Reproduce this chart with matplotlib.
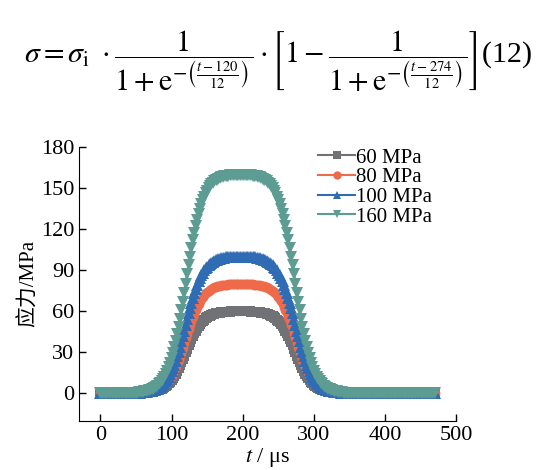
import numpy as np
import matplotlib
matplotlib.use('Agg')
import matplotlib.pyplot as plt

plt.rcParams['font.family'] = ['Liberation Serif', 'Noto Sans CJK SC']
plt.rcParams['mathtext.fontset'] = 'stix'

# temps (us), pas de 2 us
t = np.arange(0, 472, 2)

# forme normalisee du pulse (0 -> 470 us)
forme = [
    0.000, 0.000, 0.000, 0.000, 0.000, 0.000, 0.000, 0.000, 0.000, 0.000, 0.000, 0.000,   # 0-22
    0.000, 0.000, 0.000, 0.001, 0.001, 0.001, 0.001, 0.001, 0.001, 0.002, 0.002, 0.002,   # 24-46
    0.002, 0.003, 0.003, 0.004, 0.005, 0.006, 0.007, 0.008, 0.009, 0.011, 0.013, 0.015,   # 48-70
    0.018, 0.021, 0.025, 0.029, 0.034, 0.040, 0.047, 0.056, 0.065, 0.076, 0.088, 0.103,   # 72-94
    0.119, 0.138, 0.159, 0.182, 0.209, 0.237, 0.269, 0.303, 0.339, 0.378, 0.417, 0.458,   # 96-118
    0.500, 0.542, 0.583, 0.623, 0.661, 0.697, 0.731, 0.763, 0.791, 0.818, 0.841, 0.862,   # 120-142
    0.881, 0.897, 0.912, 0.924, 0.935, 0.945, 0.953, 0.960, 0.966, 0.971, 0.975, 0.979,   # 144-166
    0.982, 0.985, 0.987, 0.989, 0.991, 0.992, 0.993, 0.994, 0.995, 0.995, 0.996, 0.996,   # 168-190
    0.996, 0.997, 0.997, 0.997, 0.997, 0.996, 0.996, 0.996, 0.995, 0.995, 0.994, 0.993,   # 192-214
    0.992, 0.991, 0.989, 0.987, 0.985, 0.982, 0.979, 0.975, 0.971, 0.966, 0.960, 0.953,   # 216-238
    0.945, 0.935, 0.924, 0.912, 0.897, 0.881, 0.862, 0.841, 0.818, 0.791, 0.763, 0.731,   # 240-262
    0.697, 0.661, 0.623, 0.583, 0.542, 0.500, 0.458, 0.417, 0.378, 0.339, 0.303, 0.269,   # 264-286
    0.237, 0.209, 0.182, 0.159, 0.138, 0.119, 0.103, 0.088, 0.076, 0.065, 0.056, 0.047,   # 288-310
    0.040, 0.034, 0.029, 0.025, 0.021, 0.018, 0.015, 0.013, 0.011, 0.009, 0.008, 0.007,   # 312-334
    0.006, 0.005, 0.004, 0.003, 0.003, 0.002, 0.002, 0.002, 0.001, 0.001, 0.001, 0.001,   # 336-358
    0.001, 0.001, 0.001, 0.000, 0.000, 0.000, 0.000, 0.000, 0.000, 0.000, 0.000, 0.000,   # 360-382
] + [0.000] * 44   # 384-470
forme = np.array(forme)

amplitudes = [60, 80, 100, 160]
labels = ['60 MPa', '80 MPa', '100 MPa', '160 MPa']
couleurs = ['#707276', '#ee6a4b', '#2f6cb3', '#5c9c92']
marqueurs = ['s', 'o', '^', 'v']
tailles = [6.5, 7, 8, 8]

fig = plt.figure(figsize=(5.45, 4.70), dpi=100)
ax = fig.add_axes([0.145, 0.105, 0.692, 0.583])

for A, lab, c, m, ms in zip(amplitudes, labels, couleurs, marqueurs, tailles):
    ax.plot(t, A * forme, color=c, marker=m, markersize=ms, markeredgewidth=0,
            linewidth=2, label=lab)

ax.set_xlim(-30, 500)
ax.set_ylim(-20, 180)
ax.set_xticks([0, 100, 200, 300, 400, 500])
ax.set_yticks([0, 30, 60, 90, 120, 150, 180])
ax.spines['top'].set_visible(False)
ax.spines['right'].set_visible(False)
ax.tick_params(direction='in', labelsize=16, length=5, width=1)
ax.set_xlabel(r'$t$ / μs', fontsize=16, labelpad=1)
ax.set_ylabel('应力/MPa', fontsize=15, labelpad=1)

leg = ax.legend(loc='upper right', bbox_to_anchor=(0.97, 1.04), frameon=False, fontsize=15,
                handlelength=1.8, handletextpad=0.05, labelspacing=0.0, borderaxespad=0.2)
for h in leg.legend_handles:
    h.set_markersize(6)
    h.set_linewidth(1.5)

formule = (r'$\sigma = \sigma_{\mathrm{i}}\ \cdot \dfrac{1}{1+\mathrm{e}^{-\left(\frac{t-120}{12}\right)}}'
           r' \cdot \left[1 - \dfrac{1}{1+\mathrm{e}^{-\left(\frac{t-274}{12}\right)}}\right]$(12)')
fig.text(0.51, 0.87, formule, fontsize=21.5, ha='center', va='center')

plt.savefig('out.png', dpi=100)
